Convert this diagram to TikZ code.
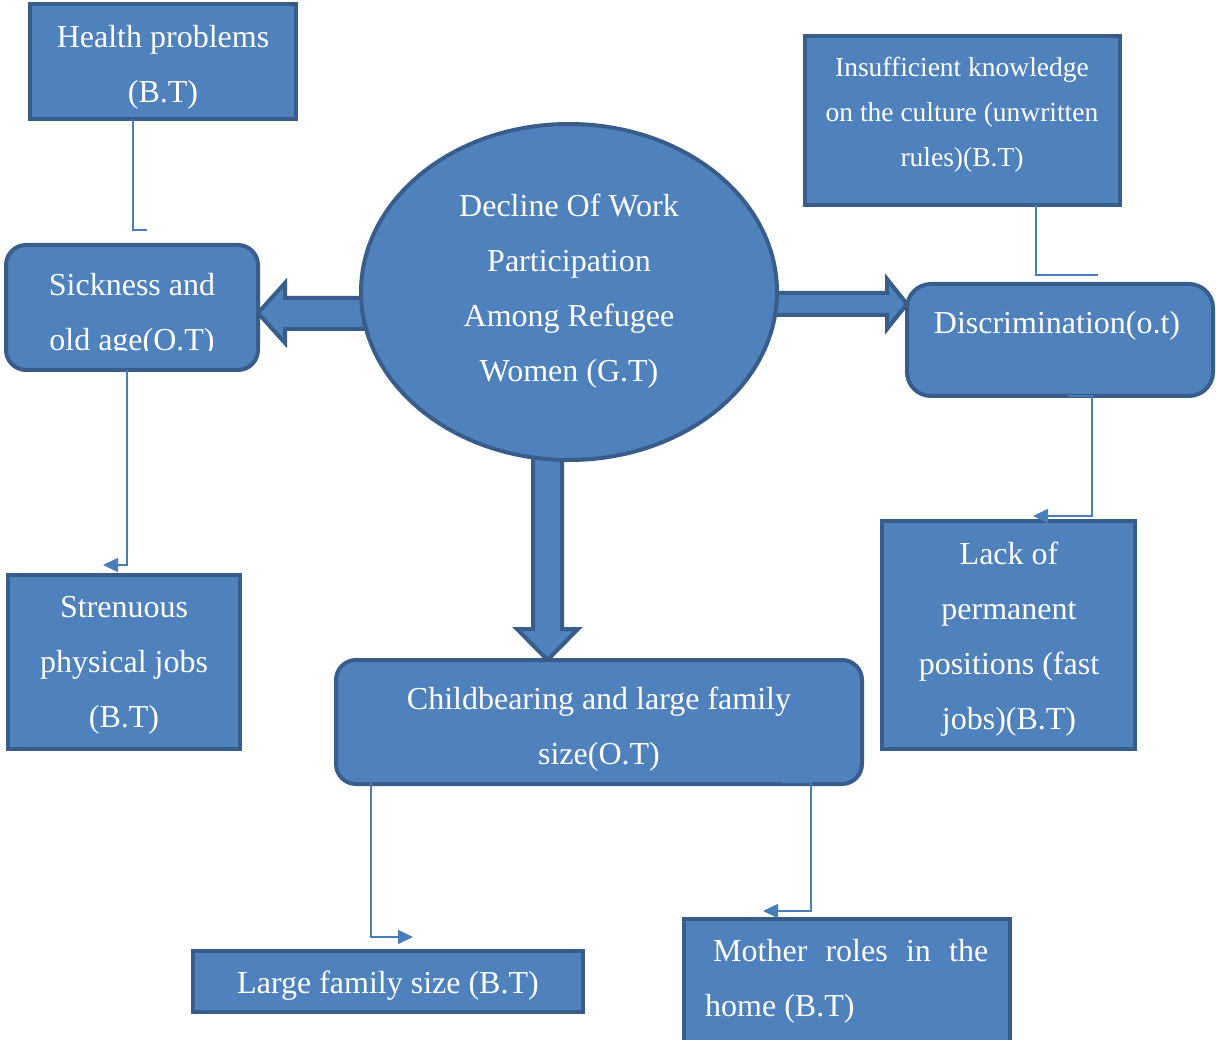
\documentclass[tikz,border=0pt]{standalone}
\usepackage{fontspec}
\setmainfont{Liberation Serif}
\usetikzlibrary{arrows.meta,shapes.geometric,calc}
\pgfdeclarelayer{bg}
\pgfsetlayers{bg,main}
\definecolor{fillc}{HTML}{4F81BD}
\definecolor{bdr}{HTML}{385D8A}
\definecolor{lnc}{HTML}{4A7EBB}
\begin{document}
\begin{tikzpicture}[x=1pt,y=-1pt,
  box/.style={draw=bdr, fill=fillc, line width=4pt, inner sep=0pt, outer sep=0pt},
  rbox/.style={box, rounded corners=20pt},
  txt/.style={text=white, font=\fontsize{32}{55}\selectfont, align=center, inner sep=0pt},
  stxt/.style={text=white, font=\fontsize{27.5}{45}\selectfont, align=center, inner sep=0pt},
  blockarrow/.style={draw=bdr, fill=fillc, line width=4pt, line join=miter},
  conn/.style={draw=lnc, line width=1.6pt},
  tipped/.style={conn, -{Triangle[length=15pt,width=14pt]}}
]
\useasboundingbox (0,0) rectangle (1216,1040);

% shapes
\node[box, minimum width=266pt, minimum height=115pt] (health) at (163,61.5) {};
\node[rbox, minimum width=252pt, minimum height=125pt] (sick) at (132,307.5) {};
\node[ellipse, draw=bdr, fill=fillc, line width=4pt, inner sep=0pt, outer sep=0pt,
      minimum width=416pt, minimum height=336pt] (ell) at (569,292) {};
\node[box, minimum width=315pt, minimum height=169pt] (insuf) at (962.5,120.5) {};
\node[rbox, rounded corners=24pt, minimum width=306pt, minimum height=112pt] (disc) at (1060,340) {};
\node[box, minimum width=232pt, minimum height=174pt] (stren) at (124,662) {};
\node[rbox, minimum width=526pt, minimum height=124pt] (child) at (599,722) {};
\node[box, minimum width=253pt, minimum height=228pt] (lack) at (1008.5,635) {};
\node[box, minimum width=390pt, minimum height=61pt] (large) at (388,981.5) {};
\node[box, minimum width=326pt, minimum height=125pt] (mother) at (847,981.5) {};

% block arrows (behind shapes)
\begin{pgfonlayer}{bg}
\draw[blockarrow] (sick.east |- 0,313) -- ++(27,-30) -- ++(0,15) -- ++(96,0) -- ++(0,31)
  -- ++(-96,0) -- ++(0,14) -- cycle;
\draw[blockarrow] (disc.west |- 0,304) -- ++(-20,-25) -- ++(0,14) -- ++(-140,0) -- ++(0,22)
  -- ++(140,0) -- ++(0,14) -- cycle;
\draw[blockarrow] (547.5,0 |- child.north) -- ++(-30.5,-31) -- ++(16,0) -- ++(0,-177)
  -- ++(29,0) -- ++(0,177) -- ++(16,0) -- cycle;
\end{pgfonlayer}

% texts
\node[txt] (healthT) at (163,64) {\strut Health problems\\\strut (B.T)};
\begin{scope}
  \clip (0,0) rectangle (300,351);
  \node[txt] (sickT) at (132,312.5) {\strut Sickness and\\\strut old age(O.T)};
\end{scope}
\node[txt] (ellT) at (569,288) {\strut Decline Of Work\\\strut Participation\\\strut Among Refugee\\\strut Women (G.T)};
\node[stxt] (insufT) at (962,112.5) {\strut Insufficient knowledge\\\strut on the culture (unwritten\\\strut rules)(B.T)};
\node[txt] (discT) at (1057,322.5) {\strut Discrimination(o.t)};
\node[txt] (strenT) at (124,661.5) {\strut Strenuous\\\strut physical jobs\\\strut (B.T)};
\node[txt] (childT) at (599,726) {\strut Childbearing and large family\\\strut size(O.T)};
\node[txt] (lackT) at (1009,635.5) {\strut Lack of\\\strut permanent\\\strut positions (fast\\\strut jobs)(B.T)};
\node[txt] (largeT) at (388,982.5) {\strut Large family size (B.T)};
\node[txt, align=left, anchor=west] (motherT) at (705,978)
  {\hspace*{8pt}\strut\makebox[275pt][l]{Mother\hfill roles\hfill in\hfill the}\\\strut home (B.T)};

% thin connectors
\coordinate (hsEnd) at (147,230);
\draw[conn] ([xshift=-30pt]health.south) |- (hsEnd);

\coordinate (ssEnd) at (103,565);
\draw[tipped] ([xshift=-5pt]sick.south) |- (ssEnd);

\coordinate (idEnd) at (1098,275);
\draw[conn] ([xshift=73.5pt]insuf.south) |- (idEnd);

\coordinate (dlBend) at (1092,516);
\coordinate (dlEnd) at (1033,516);
\draw[tipped] ([xshift=8pt]disc.south) -| (dlBend) -- (dlEnd);

\coordinate (clBend) at (371,937);
\coordinate (clEnd) at (413,937);
\draw[tipped] ([shift={(13pt,5pt)}]child.south west) -| (clBend) -- (clEnd);

\coordinate (cmBend) at (811,911);
\coordinate (cmEnd) at (763,911);
\draw[tipped] ([shift={(182pt,2pt)}]child.south) -| (cmBend) -- (cmEnd);
\end{tikzpicture}
\end{document}
